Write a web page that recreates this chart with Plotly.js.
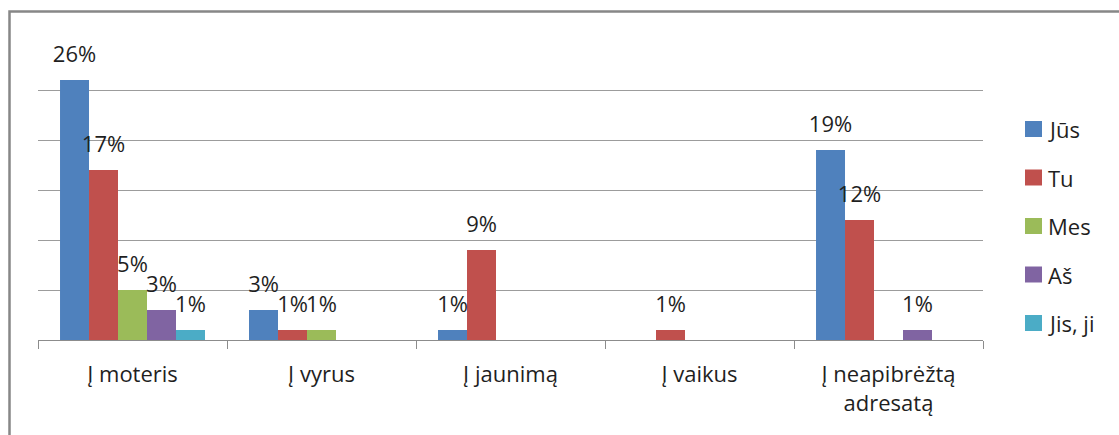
<!DOCTYPE html>
<html>
<head>
<meta charset="utf-8">
<script src="https://cdn.plot.ly/plotly-3.0.1.min.js"></script>
<style>
  html, body { margin: 0; padding: 0; background: #fff; overflow: hidden; }
  #chart { width: 1119px; height: 435px; }
</style>
</head>
<body>
<div id="chart"></div>
<script>
// Share of address forms by target group, %
const categories = ['Į moteris', 'Į vyrus', 'Į jaunimą', 'Į vaikus', 'Į neapibrėžtą<br>adresatą'];
const seriesNames = ['Jūs', 'Tu', 'Mes', 'Aš', 'Jis, ji'];
const jus  = [26, 3, 1, 0, 19];
const tu   = [17, 1, 9, 1, 12];
const mes  = [5, 1, 0, 0, 0];
const as   = [3, 0, 0, 0, 1];
const jis  = [1, 0, 0, 0, 0];
const seriesColors = ['#4F81BD', '#C0504D', '#9BBB59', '#8064A2', '#4BACC6'];

const allSeries = [jus, tu, mes, as, jis];
const FONT = 'Open Sans, Liberation Sans, sans-serif';
const TXT = '#1f1f1f';

// plot area in pixels
const W = 1119, H = 435;
const L = 38, R = 983, T = 40, B = 340;
const px2x = p => (p - L) / (R - L);
const px2y = p => (B - p) / (B - T);

const traces = [];
allSeries.forEach((vals, i) => {
  traces.push({
    type: 'bar',
    name: seriesNames[i],
    x: categories,
    y: vals,
    marker: { color: seriesColors[i], line: { width: 0 } },
    hoverinfo: 'x+y+name',
    showlegend: false
  });
});
// value labels, grouped the same way as the bars
allSeries.forEach((vals, i) => {
  traces.push({
    type: 'scatter',
    mode: 'markers+text',
    x: categories,
    y: vals.map(v => (v > 0 ? v : null)),
    text: vals.map(v => (v > 0 ? v + '%' : '')),
    textposition: 'top center',
    textfont: { family: FONT, size: 22, color: TXT },
    marker: { size: 18, opacity: 0 },
    cliponaxis: false,
    hoverinfo: 'skip',
    showlegend: false
  });
});

const shapes = [{
  type: 'rect', xref: 'paper', yref: 'paper',
  x0: px2x(9.5), x1: 1.3, y0: -0.6, y1: px2y(11.5),
  line: { color: '#878787', width: 2.5 }, fillcolor: 'rgba(0,0,0,0)'
}];
const annotations = [];
seriesNames.forEach((name, i) => {
  const yc = 129 + i * 48.5;
  shapes.push({
    type: 'rect', xref: 'paper', yref: 'paper',
    x0: px2x(1025), x1: px2x(1042), y0: px2y(yc + 8), y1: px2y(yc - 8),
    fillcolor: seriesColors[i], line: { width: 0 }
  });
  annotations.push({
    xref: 'paper', yref: 'paper', x: px2x(1046), y: px2y(yc),
    xanchor: 'left', yanchor: 'middle', showarrow: false,
    text: name, font: { family: FONT, size: 22, color: TXT }
  });
});

const layout = {
  width: W, height: H,
  margin: { l: L, r: W - R, t: T, b: H - B, pad: 0 },
  paper_bgcolor: '#fff', plot_bgcolor: '#fff',
  barmode: 'group', bargap: 0.233, bargroupgap: 0,
  scattermode: 'group', scattergap: 0.233,
  showlegend: false,
  font: { family: FONT, size: 22, color: TXT },
  xaxis: {
    type: 'category', categoryorder: 'array', categoryarray: categories,
    showline: true, linecolor: '#8c8c8c', linewidth: 1,
    ticks: 'outside', tickson: 'boundaries', ticklen: 8, tickcolor: '#8c8c8c',
    ticklabelstandoff: 15,
    showgrid: false, tickfont: { family: FONT, size: 22, color: TXT },
    fixedrange: true
  },
  yaxis: {
    range: [0, 30], dtick: 5, showgrid: true, gridcolor: '#9c9c9c', gridwidth: 1,
    showticklabels: false, zeroline: false, showline: false, ticks: '',
    fixedrange: true
  },
  shapes: shapes,
  annotations: annotations
};

Plotly.newPlot('chart', traces, layout, { displayModeBar: false, staticPlot: true });
</script>
</body>
</html>
